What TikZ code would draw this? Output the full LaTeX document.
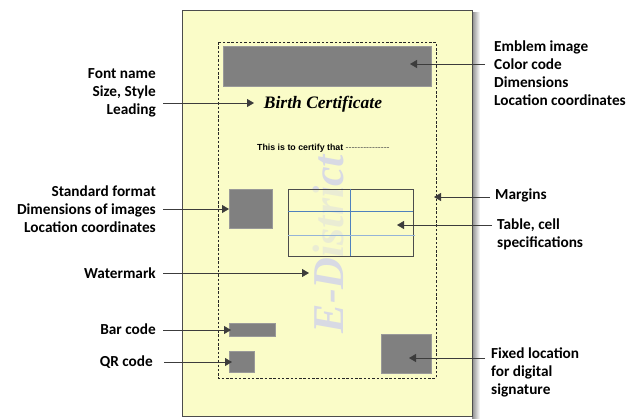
\documentclass[tikz,border=0pt]{standalone}
\usepackage{fontspec}
\setmainfont{Liberation Serif}
\newfontfamily\lblfont{Carlito}
\newfontfamily\sansfont{Liberation Sans}
\usetikzlibrary{arrows.meta}
\definecolor{pageyellow}{RGB}{250,252,200}
\definecolor{boxgray}{RGB}{128,128,128}
\definecolor{wmark}{RGB}{216,218,228}
\definecolor{tblue}{RGB}{79,129,189}
\definecolor{linegray}{RGB}{60,60,60}
\begin{document}
\begin{tikzpicture}[x=1pt,y=-1pt,
  lbl/.style={font=\lblfont\bfseries\fontsize{15.3}{18}\selectfont, inner sep=0pt},
  lblL/.style={lbl, align=right, anchor=east},
  lblR/.style={lbl, align=left, anchor=west},
  graybox/.style={fill=boxgray, draw=boxgray!80!white, line width=0.5pt, inner sep=0pt},
  conn/.style={draw=linegray, line width=0.8pt, -{Triangle[length=7pt,width=8pt]}}]
\useasboundingbox (0,0) rectangle (636,418);
% shadow and page
\shade[left color=black!45, right color=white] (472,12) rectangle (480,418);
\draw[fill=pageyellow, draw=black!70, line width=0.8pt] (182,10) rectangle (472,416);
% margins
\draw[black!85, line width=0.7pt, dash pattern=on 2.5pt off 1.8pt] (218,42) rectangle (436,378);
% watermark
\node[font=\bfseries\itshape\fontsize{44}{44}\selectfont, text=wmark, rotate=90, anchor=base, inner sep=0pt] (wm) at (343,244) {E-District};
% content
\node[graybox, minimum width=208pt, minimum height=40pt] (emblem) at (327,66) {};
\node[font=\bfseries\itshape\fontsize{17.5}{18}\selectfont, inner sep=0pt] (title) at (323,104) {Birth Certificate};
\node[font=\sansfont\bfseries\fontsize{8.8}{9}\selectfont, inner sep=0pt, anchor=west] (certify) at (257,148) {This is to certify that \mdseries\color{black!70}---------------};
\node[graybox, minimum width=43pt, minimum height=39pt] (photo) at (250.5,208.5) {};
\node[fill=pageyellow, fill opacity=0.55, draw=black!70, draw opacity=1, line width=0.8pt, minimum width=125pt, minimum height=67pt, inner sep=0pt] (table) at (350.5,222.5) {};
\draw[tblue, line width=0.7pt] (table.north) -- (table.south);
\draw[tblue, line width=0.7pt] (table.west |- 0,211) -- (table.east |- 0,211);
\draw[tblue!60, line width=0.7pt] (table.west |- 0,235) -- ([xshift=2pt]table.east |- 0,235);
\node[graybox, minimum width=46pt, minimum height=13pt] (bar) at (252,329.5) {};
\node[graybox, minimum width=25pt, minimum height=21pt] (qr) at (241.5,361.5) {};
\node[graybox, minimum width=50pt, minimum height=39pt] (sig) at (406,353.5) {};
% labels
\node[lblL] (lfont) at (156,93) {Font name\\Size, Style\\Leading};
\node[lblL] (lstd) at (156,209) {Standard format\\Dimensions of images\\Location coordinates};
\node[lblL] (lwm) at (156,273) {Watermark};
\node[lblL] (lbar) at (156,329) {Bar code};
\node[lblL] (lqr) at (153,362) {QR code};
\node[lblR] (lemb) at (494,73) {Emblem image\\Color code\\Dimensions\\Location coordinates};
\node[lblR] (lmarg) at (495,195) {Margins};
\node[lblR] (ltab) at (497,234) {Table, cell\\specifications};
\node[lblR] (lsig) at (491,372) {Fixed location\\for digital\\signature};
% connector ends
\coordinate (sfont) at (163,103); \coordinate (tfont) at (254,103);
\coordinate (sstd) at (163,209); \coordinate (tstd) at (229,209);
\coordinate (swm) at (163,273); \coordinate (twm) at (309,273);
\coordinate (sbar) at (163,330); \coordinate (tbar) at (231,330);
\coordinate (sqr) at (164,362); \coordinate (tqr) at (232,362);
\coordinate (semb) at (485,64); \coordinate (temb) at (410,64);
\coordinate (smarg) at (490,197); \coordinate (tmarg) at (434,197);
\coordinate (stab) at (492,225); \coordinate (ttab) at (397,225);
\coordinate (ssig) at (485,358); \coordinate (tsig) at (409,358);
\foreach \n in {font,std,wm,bar,qr,emb,marg,tab,sig}
  \draw[conn] (s\n) -- (t\n);
\end{tikzpicture}
\end{document}
